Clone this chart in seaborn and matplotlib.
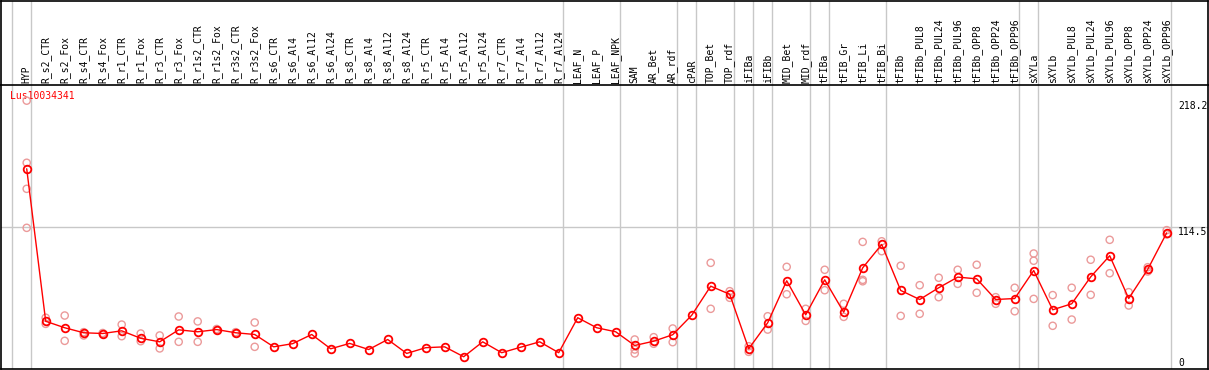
"""Perfil de expresión de Lus10034341 por muestra (media y réplicas)."""

import matplotlib
matplotlib.use("Agg")

import matplotlib.pyplot as plt
import numpy as np
import pandas as pd
import seaborn as sns


GENE = "Lus10034341"

SAMPLES = [
    "HYP", "R_s2_CTR", "R_s2_Fox", "R_s4_CTR", "R_s4_Fox", "R_r1_CTR", "R_r1_Fox",
    "R_r3_CTR", "R_r3_Fox", "R_r1s2_CTR", "R_r1s2_Fox", "R_r3s2_CTR", "R_r3s2_Fox",
    "R_s6_CTR", "R_s6_Al4", "R_s6_Al12", "R_s6_Al24", "R_s8_CTR", "R_s8_Al4",
    "R_s8_Al12", "R_s8_Al24", "R_r5_CTR", "R_r5_Al4", "R_r5_Al12", "R_r5_Al24",
    "R_r7_CTR", "R_r7_Al4", "R_r7_Al12", "R_r7_Al24", "LEAF_N", "LEAF_P", "LEAF_NPK",
    "SAM", "AR_Bet", "AR_rdf", "cPAR", "TOP_Bet", "TOP_rdf", "iFIBa", "iFIBb",
    "MID_Bet", "MID_rdf", "tFIBa", "tFIB_Gr", "tFIB_Li", "tFIB_Bi", "tFIBb",
    "tFIBb_PUL8", "tFIBb_PUL24", "tFIBb_PUL96", "tFIBb_OPP8", "tFIBb_OPP24",
    "tFIBb_OPP96", "sXYLa", "sXYLb", "sXYLb_PUL8", "sXYLb_PUL24", "sXYLb_PUL96",
    "sXYLb_OPP8", "sXYLb_OPP24", "sXYLb_OPP96",
]

MEAN_EXPR = [
    162.5, 37.8, 32.5, 28.4, 27.8, 30.0, 23.9, 21.0, 30.8, 29.2, 31.0, 28.4, 27.0,
    16.9, 19.5, 27.0, 15.3, 19.7, 14.7, 22.9, 11.5, 16.2, 16.9, 8.8, 21.0, 12.1,
    16.6, 21.0, 12.1, 40.7, 32.5, 29.2, 18.0, 21.5, 26.8, 42.7, 66.5, 59.9, 15.3,
    36.6, 70.9, 43.1, 71.7, 45.2, 81.5, 100.6, 63.0, 55.6, 65.2, 73.9, 72.5, 55.6,
    56.4, 79.3, 47.2, 52.1, 74.1, 91.4, 56.4, 80.2, 110.1,
]

# réplicas visibles (las muestras sin réplicas no aparecen)
REPLICAS = {
    "HYP": [218.2, 167.4, 146.1, 114.2],
    "R_s2_CTR": [40.7, 35.7],
    "R_s2_Fox": [42.5, 21.8],
    "R_s4_CTR": [28.9, 26.2],
    "R_s4_Fox": [28.2, 27.4],
    "R_r1_CTR": [35.1, 25.6],
    "R_r1_Fox": [27.8, 21.5],
    "R_r3_CTR": [26.2, 15.6],
    "R_r3_Fox": [41.7, 21.0],
    "R_r1s2_CTR": [37.7, 21.0],
    "R_r1s2_Fox": [31.5, 30.6],
    "R_r3s2_CTR": [28.9, 27.8],
    "R_r3s2_Fox": [36.8, 16.9],
    "SAM": [22.9, 14.7, 11.5],
    "AR_Bet": [24.8, 19.4],
    "AR_rdf": [31.9, 20.7],
    "TOP_Bet": [85.6, 48.0],
    "TOP_rdf": [62.4, 57.0],
    "iFIBa": [17.4, 12.8],
    "iFIBb": [41.9, 31.0],
    "MID_Bet": [82.3, 59.9],
    "MID_rdf": [48.0, 38.1],
    "tFIBa": [79.9, 63.2],
    "tFIB_Gr": [52.1, 41.4],
    "tFIB_Li": [102.7, 71.7, 70.5],
    "tFIB_Bi": [103.2, 95.1],
    "tFIBb": [83.2, 42.2],
    "tFIBb_PUL8": [67.3, 43.9],
    "tFIBb_PUL24": [73.4, 57.5],
    "tFIBb_PUL96": [79.9, 68.4],
    "tFIBb_OPP8": [84.0, 61.1],
    "tFIBb_OPP24": [57.5, 52.1],
    "tFIBb_OPP96": [65.2, 46.0],
    "sXYLa": [93.2, 87.3, 56.1],
    "sXYLb": [59.2, 34.1],
    "sXYLb_PUL8": [65.2, 39.2],
    "sXYLb_PUL24": [88.1, 59.4],
    "sXYLb_PUL96": [104.4, 77.1],
    "sXYLb_OPP8": [61.6, 50.7],
    "sXYLb_OPP24": [82.0, 78.5],
    "sXYLb_OPP96": [112.3, 108.8],
}

# última muestra de cada grupo (línea separadora a su derecha)
FIN_GRUPO = [
    "HYP", "R_r7_Al24", "LEAF_NPK", "AR_rdf", "cPAR", "TOP_rdf", "iFIBa", "iFIBb",
    "MID_rdf", "tFIBa", "tFIB_Bi", "tFIBb_OPP96", "sXYLa", "sXYLb_OPP96",
]

ESCALA = ["218.2", "114.5", "0"]
GRID_Y = 114.5

ROJO = "#ff0000"
ROSA = "#eb9a9a"
GRIS = "#c8c8c8"

W, H = 1209, 370
HEADER_PX = 85


def main() -> None:
    pos = {s: i for i, s in enumerate(SAMPLES)}
    medias = pd.DataFrame({"pos": np.arange(len(SAMPLES)), "valor": MEAN_EXPR})
    reps = pd.DataFrame(
        [(pos[s], v) for s, vals in REPLICAS.items() for v in vals],
        columns=["pos", "valor"],
    )

    sns.set_style("white")
    plt.rcParams["font.family"] = ["DejaVu Sans Mono", "DejaVu Sans"]

    fig = plt.figure(figsize=(W / 100, H / 100), dpi=100)
    left = 1 / W
    width = 1207 / W
    ax_head = fig.add_axes([left, (H - HEADER_PX) / H, width, (HEADER_PX - 0.5) / H])
    ax = fig.add_axes([left, 1.5 / H, width, (369 - HEADER_PX) / H])

    # eje x: 19 px por muestra, primera muestra en x=26.7 px
    xlim = ((1 - 26.7) / 19, (1208 - 26.7) / 19)
    # eje y: 1.223 px por unidad, 0 en y=368 px
    ylim = ((368 - 369) / 1.223, (368 - HEADER_PX) / 1.223)
    for a in (ax, ax_head):
        a.set_xlim(*xlim)
        a.set_xticks([])
        a.set_yticks([])
        a.grid(False)
        for sp in a.spines.values():
            sp.set_color("black")
            sp.set_linewidth(1.2)
    ax.set_ylim(*ylim)
    ax_head.set_ylim(0, 1)
    ax_head.spines["bottom"].set_visible(False)

    # separadores de grupo
    cortes = [-1] + [pos[s] for s in FIN_GRUPO]
    for c in cortes:
        for a in (ax, ax_head):
            a.axvline(c + 0.2, color=GRIS, linewidth=1, zorder=0)
    ax.axhline(GRID_Y, color=GRIS, linewidth=1, zorder=0)

    sns.scatterplot(
        data=reps, x="pos", y="valor", ax=ax, marker="o", s=27,
        facecolors="none", edgecolors=ROSA, linewidths=1.0, zorder=2,
        legend=False,
    )
    sns.lineplot(
        data=medias, x="pos", y="valor", ax=ax, color=ROJO, linewidth=1,
        marker="o", markersize=5.5, markerfacecolor="none",
        markeredgecolor=ROJO, markeredgewidth=1.3, zorder=3, legend=False,
    )
    ax.set_xlabel("")
    ax.set_ylabel("")

    # nombres de muestra en la cabecera
    for s, i in pos.items():
        ax_head.text(i, 2 / HEADER_PX, s, rotation=90, ha="center", va="bottom",
                     fontsize=7, color="black")

    ax.text(0.0075, 0.958, GENE, transform=ax.transAxes, color=ROJO,
            fontsize=7, ha="left", va="center", zorder=1)

    xlab = (1178 - 26.7) / 19
    for etiqueta in ESCALA:
        v = float(etiqueta)
        ax.text(xlab, v, etiqueta, fontsize=7, ha="left",
                va="bottom" if v == 0 else "top", color="black")

    fig.savefig("out.png", dpi=100)
    plt.close(fig)


if __name__ == "__main__":
    main()
